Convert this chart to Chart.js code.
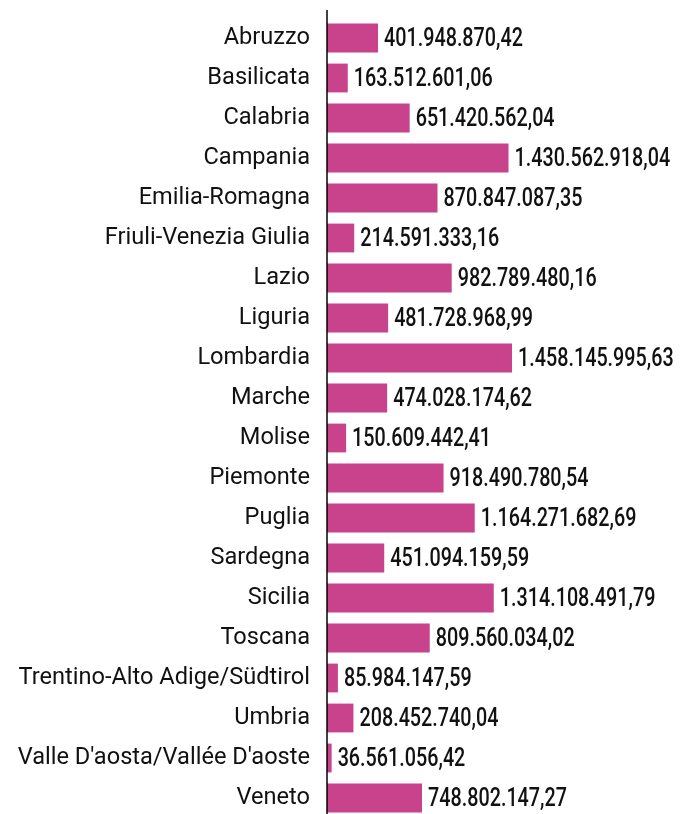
<!DOCTYPE html>
<html>
<head>
<meta charset="utf-8">
<script src="https://cdn.jsdelivr.net/npm/chart.js@4"></script>
<style>
  html, body { margin: 0; padding: 0; background: #fff; overflow: hidden; }
  #barChart { display: block; }
</style>
</head>
<body>
<canvas id="barChart" width="680" height="820"></canvas>
<script>
var regions = ["Abruzzo", "Basilicata", "Calabria", "Campania", "Emilia-Romagna", "Friuli-Venezia Giulia", "Lazio", "Liguria", "Lombardia", "Marche", "Molise", "Piemonte", "Puglia", "Sardegna", "Sicilia", "Toscana", "Trentino-Alto Adige/Südtirol", "Umbria", "Valle D'aosta/Vallée D'aoste", "Veneto"];
var amounts = [401948870.42, 163512601.06, 651420562.04, 1430562918.04, 870847087.35, 214591333.16, 982789480.16, 481728968.99, 1458145995.63, 474028174.62, 150609442.41, 918490780.54, 1164271682.69, 451094159.59, 1314108491.79, 809560034.02, 85984147.59, 208452740.04, 36561056.42, 748802147.27];

function formatIt(v) {
    var parts = v.toFixed(2).split(".");
    var intPart = parts[0].replace(/\B(?=(\d{3})+(?!\d))/g, ".");
    return intPart + "," + parts[1];
}

// labels at the end of each bar (condensed look: Roboto squeezed horizontally)
var valueLabels = {
    id: "valueLabels",
    afterDatasetsDraw: function (chart) {
        var ctx = chart.ctx;
        var meta = chart.getDatasetMeta(0);
        var squeeze = 0.76;
        ctx.save();
        ctx.fillStyle = "#111";
        ctx.font = "500 26px Roboto, sans-serif";
        ctx.textAlign = "left";
        ctx.textBaseline = "middle";
        meta.data.forEach(function (bar, i) {
            ctx.save();
            ctx.translate(bar.x + 6, bar.y + 1);
            ctx.scale(squeeze, 1);
            ctx.fillText(formatIt(amounts[i]), 0, 0);
            ctx.restore();
        });
        ctx.restore();
    }
};

// vertical axis line
var axisLine = {
    id: "axisLine",
    afterDraw: function (chart) {
        var ctx = chart.ctx;
        var x = chart.chartArea.left;
        ctx.save();
        ctx.strokeStyle = "#000";
        ctx.lineWidth = 1.5;
        ctx.beginPath();
        ctx.moveTo(x, 10);
        ctx.lineTo(x, chart.height);
        ctx.stroke();
        ctx.restore();
    }
};

var ctx = document.getElementById("barChart").getContext("2d");
new Chart(ctx, {
    type: "bar",
    data: {
        labels: regions,
        datasets: [{
            data: amounts,
            backgroundColor: "#c8428c",
            barPercentage: 0.72,
            categoryPercentage: 1
        }]
    },
    options: {
        indexAxis: "y",
        responsive: false,
        animation: false,
        layout: { padding: { top: 18, bottom: 2, right: 0, left: 0 } },
        plugins: {
            legend: { display: false },
            tooltip: { enabled: false }
        },
        scales: {
            x: {
                display: false,
                min: 0,
                max: 2782000000
            },
            y: {
                afterFit: function (scale) {
                    scale.width = 327;
                    scale.paddingTop = 0;
                    scale.paddingBottom = 0;
                },
                grid: { display: false, drawTicks: false },
                border: { display: false },
                ticks: {
                    padding: 17,
                    color: "#111",
                    font: { family: "Roboto", size: 23.6 }
                }
            }
        }
    },
    plugins: [valueLabels, axisLine]
});
</script>
</body>
</html>
